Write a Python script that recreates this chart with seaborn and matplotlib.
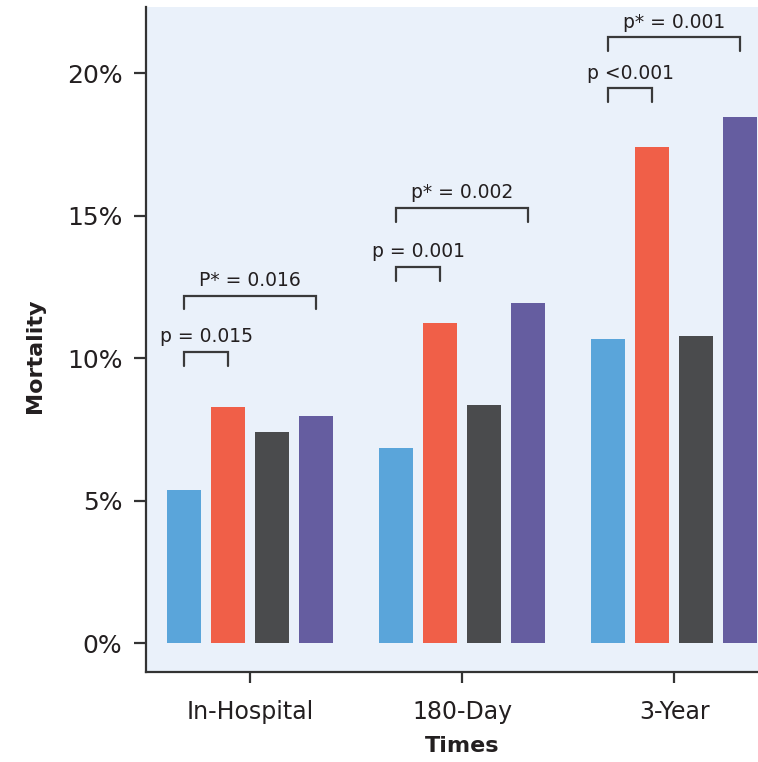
import matplotlib
matplotlib.use("Agg")
import matplotlib.pyplot as plt
import seaborn as sns
import pandas as pd
from matplotlib.ticker import FuncFormatter

# ---- data ----
times = ["In-Hospital", "180-Day", "3-Year"]
groups = ["Group 1", "Group 2", "Group 3", "Group 4"]
in_hospital = [5.38, 8.30, 7.42, 7.99]
day_180 = [6.86, 11.23, 8.36, 11.93]
year_3 = [10.68, 17.40, 10.79, 18.48]
colors = ["#5AA5DA", "#F05F48", "#4A4B4D", "#655DA0"]
yticks = [0, 5, 10, 15, 20]

# annotations: (time index, group a, group b, label, bracket level)
ann_time = [0, 0, 1, 1, 2, 2]
ann_a = [0, 0, 0, 0, 0, 0]
ann_b = [1, 3, 1, 3, 1, 3]
ann_label = ["p = 0.015", "P* = 0.016", "p = 0.001", "p* = 0.002", "p <0.001", "p* = 0.001"]
ann_level = [10.21, 12.20, 13.19, 15.26, 19.47, 21.26]

rows = []
for t, vals in zip(times, [in_hospital, day_180, year_3]):
    for g, v in zip(groups, vals):
        rows.append({"Times": t, "Group": g, "Mortality": v})
df = pd.DataFrame(rows)

sns.set_theme(style="white")
plt.rcParams["font.family"] = ["DejaVu Sans"]
TXT = "#231F20"

W, H = 758, 762
fig = plt.figure(figsize=(W / 100, H / 100), dpi=100)
ax = fig.add_axes([146 / W, 1 - 672 / H, (W - 146) / W, (672 - 7) / H])
ax.set_facecolor("#EAF1FA")

sns.barplot(data=df, x="Times", y="Mortality", hue="Group", order=times,
            hue_order=groups, palette=colors, saturation=1, width=0.83,
            gap=0.23, errorbar=None, legend=False, linewidth=0, ax=ax)

ax.set_xlim(-0.492, 2.395)
ax.set_ylim(-1.007, 22.33)
ax.set_yticks(yticks)
ax.yaxis.set_major_formatter(FuncFormatter(lambda v, p: f"{v:.0f}%"))

for s in ["top", "right"]:
    ax.spines[s].set_visible(False)
for s in ["left", "bottom"]:
    ax.spines[s].set_color("#333333")
    ax.spines[s].set_linewidth(1.6)

ax.tick_params(axis="y", which="major", left=True, length=9, width=1.6,
               color="#333333", pad=8, labelsize=18, labelcolor=TXT)
ax.tick_params(axis="x", which="major", bottom=True, length=8, width=1.6,
               color="#333333", pad=12, labelsize=17, labelcolor=TXT)

ax.set_xlabel("Times", fontsize=16, fontweight="bold", color=TXT)
ax.set_ylabel("Mortality", fontsize=16, fontweight="bold", color=TXT)
ax.xaxis.set_label_coords(0.516, -0.096)
ax.yaxis.set_label_coords(-0.165, 0.476)

# brackets positioned from the drawn bars
leg = 0.48
txt_off = 0.35
for ti, a, b, lab, lvl in zip(ann_time, ann_a, ann_b, ann_label, ann_level):
    ba = ax.containers[a][ti]
    bb = ax.containers[b][ti]
    xa = ba.get_x() + ba.get_width() / 2
    xb = bb.get_x() + bb.get_width() / 2
    ax.plot([xa, xa, xb, xb], [lvl - leg, lvl, lvl, lvl - leg],
            color="#3A3A3A", lw=1.6, solid_joinstyle="miter", clip_on=False)
    ax.text((xa + xb) / 2, lvl + txt_off, lab, ha="center", va="baseline",
            fontsize=13.5, color=TXT)

fig.savefig("out.png", dpi=100, facecolor="white")
